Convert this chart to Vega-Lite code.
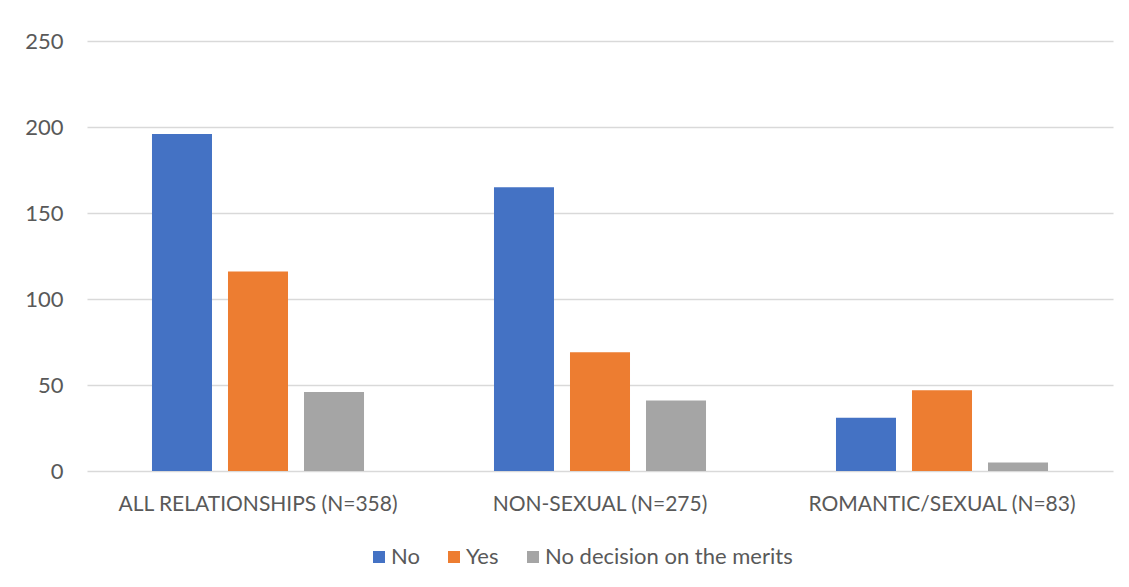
{
  "$schema": "https://vega.github.io/schema/vega-lite/v6.json",
  "width": 1026,
  "height": 430,
  "autosize": {"type": "none"},
  "padding": {"left": 87, "top": 41, "right": 16, "bottom": 116},
  "background": "white",
  "data": {
    "values": [
      {"group": "ALL RELATIONSHIPS (N=358)", "decision": "No", "count": 196},
      {"group": "ALL RELATIONSHIPS (N=358)", "decision": "Yes", "count": 116},
      {"group": "ALL RELATIONSHIPS (N=358)", "decision": "No decision on the merits", "count": 46},
      {"group": "NON-SEXUAL (N=275)", "decision": "No", "count": 165},
      {"group": "NON-SEXUAL (N=275)", "decision": "Yes", "count": 69},
      {"group": "NON-SEXUAL (N=275)", "decision": "No decision on the merits", "count": 41},
      {"group": "ROMANTIC/SEXUAL (N=83)", "decision": "No", "count": 31},
      {"group": "ROMANTIC/SEXUAL (N=83)", "decision": "Yes", "count": 47},
      {"group": "ROMANTIC/SEXUAL (N=83)", "decision": "No decision on the merits", "count": 5}
    ]
  },
  "mark": {"type": "bar"},
  "encoding": {
    "x": {
      "field": "group",
      "type": "nominal",
      "sort": ["ALL RELATIONSHIPS (N=358)", "NON-SEXUAL (N=275)", "ROMANTIC/SEXUAL (N=83)"],
      "scale": {"paddingInner": 0, "paddingOuter": 0},
      "axis": {
        "title": null,
        "labelAngle": 0,
        "ticks": false,
        "domain": false,
        "labelPadding": 22,
        "labelLimit": 0,
        "labelFont": "Lato",
        "labelFontSize": 21,
        "labelColor": "#595959"
      }
    },
    "xOffset": {
      "field": "decision",
      "type": "nominal",
      "sort": ["No", "Yes", "No decision on the merits"],
      "scale": {"paddingInner": 0.2105, "paddingOuter": 0.855}
    },
    "y": {
      "field": "count",
      "type": "quantitative",
      "scale": {"domain": [0, 250]},
      "axis": {
        "title": null,
        "values": [0, 50, 100, 150, 200, 250],
        "ticks": false,
        "domain": false,
        "labelPadding": 24,
        "labelFont": "Lato",
        "labelFontSize": 22,
        "labelColor": "#595959",
        "gridColor": "#d9d9d9",
        "gridWidth": 1.5
      }
    },
    "color": {
      "field": "decision",
      "type": "nominal",
      "sort": ["No", "Yes", "No decision on the merits"],
      "scale": {"domain": ["No", "Yes", "No decision on the merits"], "range": ["#4472C4", "#ED7D31", "#A5A5A5"]},
      "legend": {
        "title": null,
        "orient": "none",
        "direction": "horizontal",
        "legendX": 281,
        "legendY": 505,
        "symbolType": "square",
        "symbolSize": 144,
        "symbolStrokeWidth": 0,
        "labelLimit": 0,
        "labelFont": "Lato",
        "labelFontSize": 22,
        "labelColor": "#595959",
        "labelOffset": 1,
        "columnPadding": 23
      }
    }
  },
  "config": {"view": {"stroke": null}}
}
